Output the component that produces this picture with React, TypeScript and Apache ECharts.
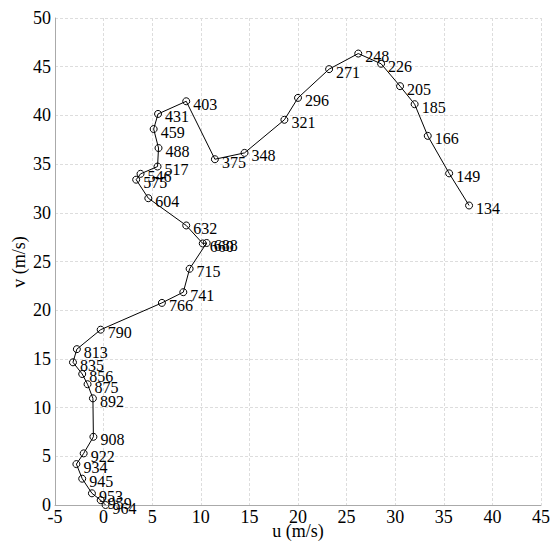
import React, { useEffect, useRef } from "react";
import * as echarts from "echarts";

const pressures = [964, 959, 953, 945, 934, 922, 908, 892, 875, 856, 835, 813, 790, 766, 741, 715, 688, 660, 632, 604, 575, 546, 517, 488, 459, 431, 403, 375, 348, 321, 296, 271, 248, 226, 205, 185, 166, 149, 134];
const uValues = [0.2, -0.3, -1.2, -2.2, -2.8, -2.05, -1.05, -1.1, -1.65, -2.2, -3.15, -2.75, -0.3, 6.0, 8.2, 8.85, 10.6, 10.2, 8.5, 4.6, 3.35, 3.8, 5.55, 5.65, 5.15, 5.6, 8.5, 11.45, 14.5, 18.6, 20.0, 23.2, 26.2, 28.55, 30.5, 32.0, 33.35, 35.55, 37.6];
const vValues = [0.0, 0.5, 1.2, 2.7, 4.2, 5.3, 7.0, 10.95, 12.4, 13.45, 14.65, 16.0, 18.0, 20.75, 21.85, 24.25, 26.9, 26.85, 28.7, 31.5, 33.4, 34.0, 34.75, 36.65, 38.6, 40.15, 41.45, 35.5, 36.15, 39.55, 41.8, 44.75, 46.35, 45.3, 43.0, 41.15, 37.9, 34.05, 30.75];
const xAxisTitle = "u (m/s)";
const yAxisTitle = "v (m/s)";

const serif = "'Liberation Serif', 'Times New Roman', serif";

export default function App() {
  const ref = useRef<HTMLDivElement>(null);
  useEffect(() => {
    if (!ref.current) return;
    const chart = echarts.init(ref.current, undefined, { renderer: "svg" });
    const data = pressures.map((p, i) => ({ value: [uValues[i], vValues[i]], name: String(p) }));
    chart.setOption({
      animation: false,
      backgroundColor: "#fff",
      textStyle: { fontFamily: serif },
      grid: { left: 47, right: 10, top: 10, bottom: 43, containLabel: false, outerBoundsMode: "none" },
      graphic: [
        {
          type: "text",
          x: 290,
          y: 523,
          style: { text: xAxisTitle, fontFamily: serif, fontSize: 18, fill: "#000", textAlign: "center", textVerticalAlign: "middle" },
        },
        {
          type: "text",
          x: 11,
          y: 254,
          rotation: Math.PI / 2,
          style: { text: yAxisTitle, fontFamily: serif, fontSize: 18, fill: "#000", textAlign: "center", textVerticalAlign: "middle" },
        },
      ],
      xAxis: {
        type: "value",
        min: -5,
        max: 45,
        interval: 5,
        axisLine: { show: true, onZero: false, lineStyle: { color: "#aaa", width: 1 } },
        axisTick: { show: false },
        axisLabel: { fontFamily: serif, fontSize: 18, color: "#000", margin: 3 },
        splitLine: { show: true, lineStyle: { color: "#ddd", type: [3, 2], width: 1 } },
      },
      yAxis: {
        type: "value",
        min: 0,
        max: 50,
        interval: 5,
        axisLine: { show: true, onZero: false, lineStyle: { color: "#aaa", width: 1 } },
        axisTick: { show: false },
        axisLabel: { fontFamily: serif, fontSize: 18, color: "#000", margin: 4 },
        splitLine: { show: true, lineStyle: { color: "#ddd", type: [3, 2], width: 1 } },
      },
      series: [
        {
          type: "line",
          data,
          symbol: "circle",
          symbolSize: 7,
          showAllSymbol: true,
          lineStyle: { color: "#000", width: 1 },
          itemStyle: { color: "rgba(255,255,255,0)", borderColor: "#000", borderWidth: 1 },
          label: {
            show: true,
            position: "right",
            distance: 3,
            offset: [0, 3],
            formatter: (p: any) => p.name,
            fontFamily: serif,
            fontSize: 16,
            color: "#000",
          },
        },
      ],
    });
    return () => chart.dispose();
  }, []);
  return <div ref={ref} style={{ width: 543, height: 540 }} />;
}
